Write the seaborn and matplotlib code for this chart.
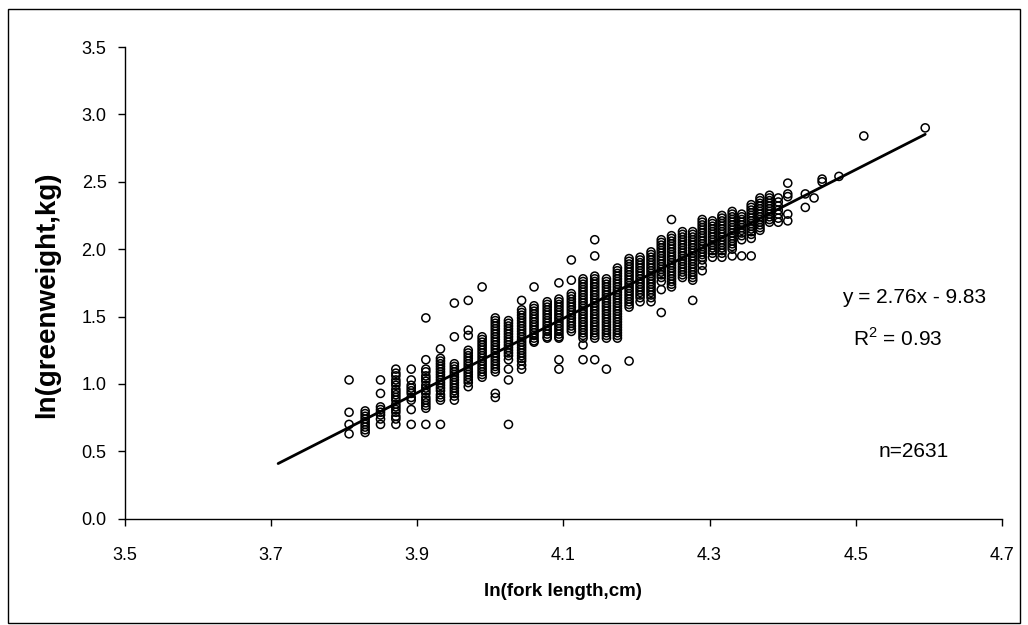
import matplotlib
matplotlib.use("Agg")
import matplotlib.pyplot as plt
import seaborn as sns
import pandas as pd
from matplotlib.patches import Rectangle

# ln(fork length, cm) columns and ln(greenweight, kg) values read per column
LN_LENGTH = [3.807, 3.829, 3.850, 3.871, 3.892, 3.912, 3.932, 3.951, 3.970, 3.989,
             4.007, 4.025, 4.043, 4.060, 4.078, 4.094, 4.111, 4.127, 4.143, 4.159,
             4.174, 4.190, 4.205, 4.220, 4.234, 4.248, 4.263, 4.277, 4.290, 4.304,
             4.317, 4.331, 4.344, 4.357, 4.369, 4.382, 4.394, 4.407, 4.431, 4.443,
             4.454, 4.477, 4.511, 4.595]

LN_WEIGHT = [
    [1.03, 0.79, 0.70, 0.63],
    [0.80, 0.78, 0.76, 0.74, 0.72, 0.70, 0.68, 0.66, 0.64],
    [1.03, 0.93, 0.83, 0.81, 0.79, 0.77, 0.74, 0.70],
    [1.11, 1.08, 1.06, 1.03, 1.01, 0.99, 0.96, 0.94, 0.92, 0.90, 0.88, 0.85, 0.83, 0.81, 0.79, 0.76, 0.74, 0.70],
    [1.11, 1.03, 0.99, 0.97, 0.95, 0.93, 0.90, 0.88, 0.81, 0.70],
    [1.49, 1.18, 1.11, 1.09, 1.06, 1.04, 1.02, 0.99, 0.97, 0.95, 0.93, 0.90, 0.88, 0.86, 0.84, 0.82, 0.70],
    [1.26, 1.19, 1.17, 1.15, 1.13, 1.11, 1.09, 1.07, 1.05, 1.03, 1.01, 0.99, 0.97, 0.95, 0.92, 0.90, 0.88, 0.70],
    [1.60, 1.35, 1.15, 1.13, 1.11, 1.09, 1.07, 1.05, 1.03, 1.01, 0.99, 0.97, 0.95, 0.93, 0.91, 0.88],
    [1.62, 1.40, 1.36, 1.25, 1.23, 1.21, 1.19, 1.17, 1.15, 1.13, 1.11, 1.09, 1.07, 1.05, 1.03, 1.01, 0.98],
    [1.72, 1.35, 1.33, 1.31, 1.29, 1.27, 1.25, 1.23, 1.21, 1.19, 1.17, 1.15, 1.13, 1.11, 1.09, 1.07, 1.05],
    [1.49, 1.47, 1.45, 1.43, 1.41, 1.39, 1.37, 1.35, 1.33, 1.31, 1.29, 1.27, 1.25, 1.23, 1.21, 1.19,
     1.17, 1.15, 1.13, 1.11, 1.09, 0.93, 0.90],
    [1.47, 1.45, 1.43, 1.41, 1.39, 1.37, 1.35, 1.33, 1.31, 1.29, 1.27, 1.25, 1.23, 1.21, 1.18, 1.11, 1.03, 0.70],
    [1.62, 1.55, 1.53, 1.51, 1.49, 1.47, 1.45, 1.43, 1.41, 1.39, 1.37, 1.35, 1.33, 1.31, 1.29, 1.27,
     1.25, 1.23, 1.21, 1.19, 1.17, 1.14, 1.11],
    [1.72, 1.58, 1.56, 1.54, 1.52, 1.50, 1.48, 1.46, 1.44, 1.42, 1.40, 1.38, 1.36, 1.34, 1.32, 1.31],
    [1.61, 1.59, 1.57, 1.55, 1.53, 1.51, 1.49, 1.47, 1.45, 1.43, 1.41, 1.39, 1.37, 1.35, 1.34],
    [1.75, 1.63, 1.61, 1.59, 1.57, 1.55, 1.53, 1.51, 1.49, 1.47, 1.45, 1.43, 1.41, 1.39, 1.37, 1.35,
     1.34, 1.18, 1.11],
    [1.92, 1.77, 1.67, 1.65, 1.63, 1.61, 1.59, 1.57, 1.55, 1.53, 1.51, 1.49, 1.47, 1.45, 1.43, 1.41, 1.39],
    [1.78, 1.76, 1.74, 1.72, 1.70, 1.68, 1.66, 1.64, 1.62, 1.60, 1.58, 1.56, 1.54, 1.52, 1.50, 1.48,
     1.46, 1.44, 1.42, 1.40, 1.38, 1.36, 1.34, 1.29, 1.18],
    [2.07, 1.95, 1.80, 1.78, 1.76, 1.74, 1.72, 1.70, 1.68, 1.66, 1.64, 1.62, 1.60, 1.58, 1.56, 1.54,
     1.52, 1.50, 1.48, 1.46, 1.44, 1.42, 1.40, 1.38, 1.36, 1.34, 1.18],
    [1.78, 1.76, 1.74, 1.72, 1.70, 1.68, 1.66, 1.64, 1.62, 1.60, 1.58, 1.56, 1.54, 1.52, 1.50, 1.48,
     1.46, 1.44, 1.42, 1.40, 1.38, 1.36, 1.34, 1.11],
    [1.86, 1.84, 1.82, 1.80, 1.78, 1.76, 1.74, 1.72, 1.70, 1.68, 1.66, 1.64, 1.62, 1.60, 1.58, 1.56,
     1.54, 1.52, 1.50, 1.48, 1.46, 1.44, 1.42, 1.40, 1.38, 1.36, 1.34],
    [1.93, 1.91, 1.89, 1.87, 1.85, 1.83, 1.81, 1.79, 1.77, 1.75, 1.73, 1.71, 1.69, 1.67, 1.65, 1.63,
     1.61, 1.59, 1.57, 1.17],
    [1.94, 1.92, 1.90, 1.88, 1.86, 1.84, 1.82, 1.80, 1.78, 1.76, 1.74, 1.72, 1.70, 1.68, 1.66, 1.64, 1.61],
    [1.98, 1.96, 1.94, 1.92, 1.90, 1.88, 1.86, 1.84, 1.82, 1.80, 1.78, 1.76, 1.74, 1.72, 1.70, 1.68,
     1.66, 1.64, 1.61],
    [2.07, 2.05, 2.03, 2.01, 1.99, 1.97, 1.95, 1.93, 1.91, 1.89, 1.87, 1.85, 1.83, 1.81, 1.79, 1.76,
     1.70, 1.53],
    [2.22, 2.10, 2.08, 2.06, 2.04, 2.02, 2.00, 1.98, 1.96, 1.94, 1.92, 1.90, 1.88, 1.86, 1.84, 1.82,
     1.80, 1.78, 1.76, 1.74, 1.72],
    [2.13, 2.11, 2.09, 2.07, 2.05, 2.03, 2.01, 1.99, 1.97, 1.95, 1.93, 1.91, 1.89, 1.87, 1.85, 1.83,
     1.81, 1.79],
    [2.13, 2.11, 2.09, 2.07, 2.05, 2.03, 2.01, 1.99, 1.97, 1.95, 1.93, 1.91, 1.89, 1.87, 1.85, 1.83,
     1.81, 1.79, 1.77, 1.62],
    [2.22, 2.20, 2.18, 2.16, 2.14, 2.12, 2.10, 2.08, 2.06, 2.04, 2.02, 2.00, 1.98, 1.96, 1.94, 1.92,
     1.88, 1.84],
    [2.21, 2.19, 2.17, 2.15, 2.13, 2.11, 2.09, 2.07, 2.05, 2.03, 2.01, 1.99, 1.97, 1.94],
    [2.25, 2.23, 2.21, 2.19, 2.17, 2.15, 2.13, 2.11, 2.09, 2.07, 2.05, 2.03, 2.01, 1.99, 1.97, 1.94],
    [2.28, 2.26, 2.24, 2.22, 2.20, 2.18, 2.16, 2.14, 2.12, 2.10, 2.08, 2.06, 2.04, 2.02, 2.00, 1.95],
    [2.26, 2.24, 2.22, 2.20, 2.18, 2.16, 2.14, 2.12, 2.10, 2.07, 1.95],
    [2.33, 2.31, 2.29, 2.27, 2.25, 2.23, 2.21, 2.19, 2.17, 2.15, 2.13, 2.11, 2.08, 1.95],
    [2.38, 2.36, 2.34, 2.32, 2.30, 2.28, 2.26, 2.24, 2.22, 2.20, 2.18, 2.16, 2.14],
    [2.40, 2.38, 2.36, 2.34, 2.32, 2.30, 2.28, 2.26, 2.24, 2.22, 2.20],
    [2.38, 2.35, 2.32, 2.29, 2.26, 2.23, 2.20],
    [2.49, 2.41, 2.39, 2.26, 2.21],
    [2.41, 2.31],
    [2.38],
    [2.52, 2.50],
    [2.54],
    [2.84],
    [2.90],
]

# Trendline as reported on the chart
SLOPE = 2.76
INTERCEPT = -9.83
TREND_X = [3.71, 4.595]

X_TICKS = [3.5, 3.7, 3.9, 4.1, 4.3, 4.5, 4.7]
Y_TICKS = [0.0, 0.5, 1.0, 1.5, 2.0, 2.5, 3.0, 3.5]

EQ_TEXT = "y = 2.76x - 9.83"
R2_TEXT = r"R$^2$ = 0.93"
N_TEXT = "n=2631"

rows = []
for xv, ys in zip(LN_LENGTH, LN_WEIGHT):
    for yv in ys:
        rows.append({"ln_fl": xv, "ln_gw": yv})
df = pd.DataFrame(rows)
trend = pd.DataFrame({"x": TREND_X, "y": [SLOPE * v + INTERCEPT for v in TREND_X]})

sns.set_theme(style="white")
plt.rcParams["font.family"] = ["Liberation Sans", "DejaVu Sans"]
plt.rcParams["mathtext.fontset"] = "custom"
plt.rcParams["mathtext.rm"] = "Liberation Sans"

fig = plt.figure(figsize=(10.28, 6.25), dpi=100)
ax = fig.add_axes([0.1212, 0.170, 0.8535, 0.7548])

sns.scatterplot(data=df, x="ln_fl", y="ln_gw", ax=ax, marker="o", s=34,
                facecolor="none", edgecolor="black", linewidth=1.1, legend=False)
sns.lineplot(data=trend, x="x", y="y", ax=ax, color="black", linewidth=2.0)

ax.set_xlim(3.5, 4.7)
ax.set_ylim(0.0, 3.5)
ax.set_xticks(X_TICKS)
ax.set_yticks(Y_TICKS)
ax.set_xticklabels([f"{t:.1f}" for t in X_TICKS])
ax.set_yticklabels([f"{t:.1f}" for t in Y_TICKS])
for s in ["top", "right"]:
    ax.spines[s].set_visible(False)
for s in ["left", "bottom"]:
    ax.spines[s].set_color("black")
    ax.spines[s].set_linewidth(1.0)
ax.tick_params(axis="both", direction="out", length=5, width=1, color="black",
               labelsize=13, labelcolor="black", bottom=True, left=True)
ax.tick_params(axis="x", pad=15)
ax.tick_params(axis="y", pad=8)

ax.set_xlabel("ln(fork length,cm)", fontsize=13.5, fontweight="bold", color="black")
ax.set_ylabel("ln(greenweight,kg)", fontsize=20, fontweight="bold", color="black")
ax.xaxis.set_label_coords(0.5, -0.136)
ax.yaxis.set_label_coords(-0.074, 0.475)

ax.text(4.679, 1.64, EQ_TEXT, fontsize=15, ha="right", va="center", color="black")
ax.text(4.557, 1.34, R2_TEXT, fontsize=15, ha="center", va="center", color="black")
ax.text(4.579, 0.50, N_TEXT, fontsize=15, ha="center", va="center", color="black")

fig.patches.append(Rectangle((0.008, 0.004), 0.984, 0.982, transform=fig.transFigure,
                             fill=False, edgecolor="black", linewidth=1.0))

fig.savefig("out.png", dpi=100)
